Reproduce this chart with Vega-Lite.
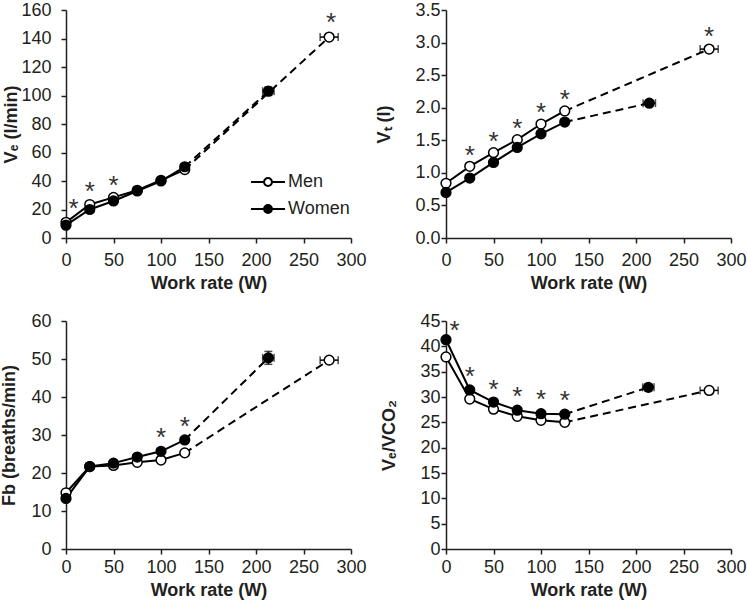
{
  "$schema": "https://vega.github.io/schema/vega-lite/v6.json",
  "background": "white",
  "padding": {"left": 0, "top": 1, "right": 2, "bottom": 2},
  "datasets": {
    "pts": [
      {"panel": "VE", "sex": "Men", "W": 0, "v": 11},
      {"panel": "VE", "sex": "Men", "W": 25, "v": 23.5},
      {"panel": "VE", "sex": "Men", "W": 50, "v": 28.5},
      {"panel": "VE", "sex": "Men", "W": 75, "v": 33.5},
      {"panel": "VE", "sex": "Men", "W": 100, "v": 40.5},
      {"panel": "VE", "sex": "Men", "W": 125, "v": 48},
      {"panel": "VE", "sex": "Men", "W": 277, "v": 141},
      {"panel": "VE", "sex": "Women", "W": 0, "v": 9},
      {"panel": "VE", "sex": "Women", "W": 25, "v": 20},
      {"panel": "VE", "sex": "Women", "W": 50, "v": 26},
      {"panel": "VE", "sex": "Women", "W": 75, "v": 33},
      {"panel": "VE", "sex": "Women", "W": 100, "v": 40},
      {"panel": "VE", "sex": "Women", "W": 125, "v": 50},
      {"panel": "VE", "sex": "Women", "W": 213, "v": 103},
      {"panel": "VT", "sex": "Men", "W": 0, "v": 0.84},
      {"panel": "VT", "sex": "Men", "W": 25, "v": 1.10},
      {"panel": "VT", "sex": "Men", "W": 50, "v": 1.31},
      {"panel": "VT", "sex": "Men", "W": 75, "v": 1.51},
      {"panel": "VT", "sex": "Men", "W": 100, "v": 1.75},
      {"panel": "VT", "sex": "Men", "W": 125, "v": 1.95},
      {"panel": "VT", "sex": "Men", "W": 277, "v": 2.90},
      {"panel": "VT", "sex": "Women", "W": 0, "v": 0.70},
      {"panel": "VT", "sex": "Women", "W": 25, "v": 0.92},
      {"panel": "VT", "sex": "Women", "W": 50, "v": 1.16},
      {"panel": "VT", "sex": "Women", "W": 75, "v": 1.39},
      {"panel": "VT", "sex": "Women", "W": 100, "v": 1.60},
      {"panel": "VT", "sex": "Women", "W": 125, "v": 1.78},
      {"panel": "VT", "sex": "Women", "W": 214, "v": 2.07},
      {"panel": "Fb", "sex": "Men", "W": 0, "v": 14.8},
      {"panel": "Fb", "sex": "Men", "W": 25, "v": 21.7},
      {"panel": "Fb", "sex": "Men", "W": 50, "v": 22.0},
      {"panel": "Fb", "sex": "Men", "W": 75, "v": 22.8},
      {"panel": "Fb", "sex": "Men", "W": 100, "v": 23.4},
      {"panel": "Fb", "sex": "Men", "W": 125, "v": 25.3},
      {"panel": "Fb", "sex": "Men", "W": 277, "v": 49.7},
      {"panel": "Fb", "sex": "Women", "W": 0, "v": 13.3},
      {"panel": "Fb", "sex": "Women", "W": 25, "v": 21.7},
      {"panel": "Fb", "sex": "Women", "W": 50, "v": 22.6},
      {"panel": "Fb", "sex": "Women", "W": 75, "v": 24.2},
      {"panel": "Fb", "sex": "Women", "W": 100, "v": 25.7},
      {"panel": "Fb", "sex": "Women", "W": 125, "v": 28.7},
      {"panel": "Fb", "sex": "Women", "W": 213, "v": 50.3},
      {"panel": "VEVCO2", "sex": "Men", "W": 0, "v": 37.9},
      {"panel": "VEVCO2", "sex": "Men", "W": 25, "v": 29.6},
      {"panel": "VEVCO2", "sex": "Men", "W": 50, "v": 27.6},
      {"panel": "VEVCO2", "sex": "Men", "W": 75, "v": 26.2},
      {"panel": "VEVCO2", "sex": "Men", "W": 100, "v": 25.4},
      {"panel": "VEVCO2", "sex": "Men", "W": 125, "v": 25.0},
      {"panel": "VEVCO2", "sex": "Men", "W": 277, "v": 31.3},
      {"panel": "VEVCO2", "sex": "Women", "W": 0, "v": 41.3},
      {"panel": "VEVCO2", "sex": "Women", "W": 25, "v": 31.4},
      {"panel": "VEVCO2", "sex": "Women", "W": 50, "v": 29.0},
      {"panel": "VEVCO2", "sex": "Women", "W": 75, "v": 27.4},
      {"panel": "VEVCO2", "sex": "Women", "W": 100, "v": 26.7},
      {"panel": "VEVCO2", "sex": "Women", "W": 125, "v": 26.6},
      {"panel": "VEVCO2", "sex": "Women", "W": 213, "v": 31.9}
    ],
    "err": [
      {"panel": "VE", "sex": "Men", "v": 141, "xlo": 267.5, "xhi": 286.5},
      {"panel": "VE", "sex": "Women", "v": 103, "xlo": 207, "xhi": 219},
      {"panel": "VT", "sex": "Men", "v": 2.90, "xlo": 267.5, "xhi": 286.5},
      {"panel": "VT", "sex": "Women", "v": 2.07, "xlo": 207.5, "xhi": 220.5},
      {"panel": "Fb", "sex": "Men", "v": 49.7, "xlo": 267.5, "xhi": 286.5},
      {"panel": "Fb", "sex": "Women", "v": 50.3, "xlo": 207, "xhi": 219},
      {"panel": "VEVCO2", "sex": "Men", "v": 31.3, "xlo": 267.5, "xhi": 286.5},
      {"panel": "VEVCO2", "sex": "Women", "v": 31.9, "xlo": 207, "xhi": 219}
    ],
    "verr": [
      {"panel": "VE", "W": 213, "ylo": 100, "yhi": 106},
      {"panel": "Fb", "W": 213, "ylo": 48.6, "yhi": 52},
      {"panel": "VEVCO2", "W": 213, "ylo": 31.2, "yhi": 32.6}
    ],
    "ast": [
      {"panel": "VE", "W": 8, "v": 25},
      {"panel": "VE", "W": 25, "v": 37},
      {"panel": "VE", "W": 50, "v": 41.5},
      {"panel": "VE", "W": 279, "v": 156},
      {"panel": "VT", "W": 25, "v": 1.37},
      {"panel": "VT", "W": 50, "v": 1.58},
      {"panel": "VT", "W": 75, "v": 1.78},
      {"panel": "VT", "W": 100, "v": 2.02},
      {"panel": "VT", "W": 125, "v": 2.23},
      {"panel": "VT", "W": 277, "v": 3.19},
      {"panel": "Fb", "W": 100, "v": 31},
      {"panel": "Fb", "W": 125, "v": 34},
      {"panel": "VEVCO2", "W": 9, "v": 44.5},
      {"panel": "VEVCO2", "W": 25, "v": 35.4},
      {"panel": "VEVCO2", "W": 50, "v": 32.7},
      {"panel": "VEVCO2", "W": 75, "v": 31.4},
      {"panel": "VEVCO2", "W": 100, "v": 30.8},
      {"panel": "VEVCO2", "W": 125, "v": 30.6}
    ]
  },
  "columns": 2,
  "bounds": "flush",
  "spacing": {"row": 83, "column": 95},
  "resolve": {"scale": {"fill": "independent"}, "legend": {"fill": "independent"}},
  "concat": [
    {
      "width": 285, "height": 228,
      "layer": [
        {"data": {"name": "pts"}, "transform": [{"filter": "datum.panel === 'VE' && datum.W <= 125"}],
         "mark": {"type": "line", "color": "#000", "strokeWidth": 2},
         "encoding": {
           "x": {"field": "W", "type": "quantitative", "title": "Work rate (W)", "scale": {"domain": [0, 300], "nice": false},
                 "axis": {"title": "Work rate (W)", "values": [0, 50, 100, 150, 200, 250, 300], "labelPadding": 8, "titlePadding": 5}},
           "y": {"field": "v", "type": "quantitative", "title": "Vₑ (l/min)", "scale": {"domain": [0, 160], "nice": false},
                 "axis": {"title": "Vₑ (l/min)", "values": [0, 20, 40, 60, 80, 100, 120, 140, 160], "labelPadding": 10, "titlePadding": 0}},
           "detail": {"field": "sex"}}},
        {"data": {"name": "pts"}, "transform": [{"filter": "datum.panel === 'VE' && datum.W >= 125"}],
         "mark": {"type": "line", "color": "#000", "strokeWidth": 2, "strokeDash": [8, 5]},
         "encoding": {
           "x": {"field": "W", "type": "quantitative", "title": "Work rate (W)", "axis": {"title": "Work rate (W)", "values": [0, 50, 100, 150, 200, 250, 300], "labelPadding": 8, "titlePadding": 5}},
           "y": {"field": "v", "type": "quantitative", "title": "Vₑ (l/min)", "axis": {"title": "Vₑ (l/min)", "values": [0, 20, 40, 60, 80, 100, 120, 140, 160], "labelPadding": 10, "titlePadding": 0}},
           "detail": {"field": "sex"}}},
        {"data": {"name": "err"}, "transform": [{"filter": "datum.panel === 'VE'"}],
         "mark": {"type": "errorbar", "ticks": {"size": 8, "thickness": 1.5}, "thickness": 1.5, "color": "#000"},
         "encoding": {
           "x": {"field": "xlo", "type": "quantitative", "title": "Work rate (W)", "axis": {"title": "Work rate (W)", "values": [0, 50, 100, 150, 200, 250, 300], "labelPadding": 8, "titlePadding": 5}},
           "x2": {"field": "xhi"},
           "y": {"field": "v", "type": "quantitative", "title": "Vₑ (l/min)", "axis": {"title": "Vₑ (l/min)", "values": [0, 20, 40, 60, 80, 100, 120, 140, 160], "labelPadding": 10, "titlePadding": 0}}}},
        {"data": {"name": "verr"}, "transform": [{"filter": "datum.panel === 'VE'"}],
         "mark": {"type": "errorbar", "ticks": {"size": 8, "thickness": 1.5}, "thickness": 1.5, "color": "#000"},
         "encoding": {
           "y": {"field": "ylo", "type": "quantitative", "title": "Vₑ (l/min)", "axis": {"title": "Vₑ (l/min)", "values": [0, 20, 40, 60, 80, 100, 120, 140, 160], "labelPadding": 10, "titlePadding": 0}},
           "y2": {"field": "yhi"},
           "x": {"field": "W", "type": "quantitative", "title": "Work rate (W)", "axis": {"title": "Work rate (W)", "values": [0, 50, 100, 150, 200, 250, 300], "labelPadding": 8, "titlePadding": 5}}}},
        {"data": {"name": "pts"}, "transform": [{"filter": "datum.panel === 'VE'"}],
         "mark": {"type": "point", "shape": "circle", "filled": true, "size": 95, "stroke": "#000", "strokeWidth": 1.5, "opacity": 1},
         "encoding": {
           "x": {"field": "W", "type": "quantitative", "title": "Work rate (W)", "axis": {"title": "Work rate (W)", "values": [0, 50, 100, 150, 200, 250, 300], "labelPadding": 8, "titlePadding": 5}},
           "y": {"field": "v", "type": "quantitative", "title": "Vₑ (l/min)", "axis": {"title": "Vₑ (l/min)", "values": [0, 20, 40, 60, 80, 100, 120, 140, 160], "labelPadding": 10, "titlePadding": 0}},
           "fill": {"field": "sex", "type": "nominal", "scale": {"domain": ["Men", "Women"], "range": ["#ffffff", "#000000"]},
             "legend": {"orient": "none", "legendX": 189, "legendY": 159, "title": null, "padding": 0,
               "symbolType": "M-1.42,0H-0.33M0.33,0H1.42M0.33,0A0.33,0.33,0,1,1,-0.33,0A0.33,0.33,0,1,1,0.33,0Z",
               "symbolSize": 576, "symbolStrokeColor": "#000", "symbolStrokeWidth": 2, "symbolOpacity": 1,
               "labelFont": "Liberation Sans", "labelFontSize": 18, "labelColor": "#231f20", "labelOffset": 7, "rowPadding": 5}}}},
        {"data": {"name": "ast"}, "transform": [{"filter": "datum.panel === 'VE'"}],
         "mark": {"type": "text", "text": "*", "font": "Liberation Sans", "fontSize": 26, "color": "#333", "baseline": "middle", "dy": 7},
         "encoding": {
           "x": {"field": "W", "type": "quantitative", "title": "Work rate (W)", "axis": {"title": "Work rate (W)", "values": [0, 50, 100, 150, 200, 250, 300], "labelPadding": 8, "titlePadding": 5}},
           "y": {"field": "v", "type": "quantitative", "title": "Vₑ (l/min)", "axis": {"title": "Vₑ (l/min)", "values": [0, 20, 40, 60, 80, 100, 120, 140, 160], "labelPadding": 10, "titlePadding": 0}}}}
      ]
    },
    {
      "width": 285, "height": 228,
      "layer": [
        {"data": {"name": "pts"}, "transform": [{"filter": "datum.panel === 'VT' && datum.W <= 125"}],
         "mark": {"type": "line", "color": "#000", "strokeWidth": 2},
         "encoding": {
           "x": {"field": "W", "type": "quantitative", "title": "Work rate (W)", "scale": {"domain": [0, 300], "nice": false},
                 "axis": {"title": "Work rate (W)", "values": [0, 50, 100, 150, 200, 250, 300], "labelPadding": 8, "titlePadding": 5}},
           "y": {"field": "v", "type": "quantitative", "title": "Vₜ (l)", "scale": {"domain": [0, 3.5], "nice": false},
                 "axis": {"title": "Vₜ (l)", "values": [0, 0.5, 1, 1.5, 2, 2.5, 3, 3.5], "format": ".1f", "labelPadding": 1, "titlePadding": 21}},
           "detail": {"field": "sex"}}},
        {"data": {"name": "pts"}, "transform": [{"filter": "datum.panel === 'VT' && datum.W >= 125"}],
         "mark": {"type": "line", "color": "#000", "strokeWidth": 2, "strokeDash": [8, 5]},
         "encoding": {
           "x": {"field": "W", "type": "quantitative", "title": "Work rate (W)", "axis": {"title": "Work rate (W)", "values": [0, 50, 100, 150, 200, 250, 300], "labelPadding": 8, "titlePadding": 5}},
           "y": {"field": "v", "type": "quantitative", "title": "Vₜ (l)", "axis": {"title": "Vₜ (l)", "values": [0, 0.5, 1, 1.5, 2, 2.5, 3, 3.5], "format": ".1f", "labelPadding": 1, "titlePadding": 21}},
           "detail": {"field": "sex"}}},
        {"data": {"name": "err"}, "transform": [{"filter": "datum.panel === 'VT'"}],
         "mark": {"type": "errorbar", "ticks": {"size": 8, "thickness": 1.5}, "thickness": 1.5, "color": "#000"},
         "encoding": {
           "x": {"field": "xlo", "type": "quantitative", "title": "Work rate (W)", "axis": {"title": "Work rate (W)", "values": [0, 50, 100, 150, 200, 250, 300], "labelPadding": 8, "titlePadding": 5}},
           "x2": {"field": "xhi"},
           "y": {"field": "v", "type": "quantitative", "title": "Vₜ (l)", "axis": {"title": "Vₜ (l)", "values": [0, 0.5, 1, 1.5, 2, 2.5, 3, 3.5], "format": ".1f", "labelPadding": 1, "titlePadding": 21}}}},
        {"data": {"name": "pts"}, "transform": [{"filter": "datum.panel === 'VT'"}],
         "mark": {"type": "point", "shape": "circle", "filled": true, "size": 95, "stroke": "#000", "strokeWidth": 1.5, "opacity": 1},
         "encoding": {
           "x": {"field": "W", "type": "quantitative", "title": "Work rate (W)", "axis": {"title": "Work rate (W)", "values": [0, 50, 100, 150, 200, 250, 300], "labelPadding": 8, "titlePadding": 5}},
           "y": {"field": "v", "type": "quantitative", "title": "Vₜ (l)", "axis": {"title": "Vₜ (l)", "values": [0, 0.5, 1, 1.5, 2, 2.5, 3, 3.5], "format": ".1f", "labelPadding": 1, "titlePadding": 21}},
           "fill": {"field": "sex", "type": "nominal", "scale": {"domain": ["Men", "Women"], "range": ["#ffffff", "#000000"]}, "legend": null}}},
        {"data": {"name": "ast"}, "transform": [{"filter": "datum.panel === 'VT'"}],
         "mark": {"type": "text", "text": "*", "font": "Liberation Sans", "fontSize": 26, "color": "#333", "baseline": "middle", "dy": 7},
         "encoding": {
           "x": {"field": "W", "type": "quantitative", "title": "Work rate (W)", "axis": {"title": "Work rate (W)", "values": [0, 50, 100, 150, 200, 250, 300], "labelPadding": 8, "titlePadding": 5}},
           "y": {"field": "v", "type": "quantitative", "title": "Vₜ (l)", "axis": {"title": "Vₜ (l)", "values": [0, 0.5, 1, 1.5, 2, 2.5, 3, 3.5], "format": ".1f", "labelPadding": 1, "titlePadding": 21}}}}
      ]
    },
    {
      "width": 285, "height": 228,
      "layer": [
        {"data": {"name": "pts"}, "transform": [{"filter": "datum.panel === 'Fb' && datum.W <= 125"}],
         "mark": {"type": "line", "color": "#000", "strokeWidth": 2},
         "encoding": {
           "x": {"field": "W", "type": "quantitative", "title": "Work rate (W)", "scale": {"domain": [0, 300], "nice": false},
                 "axis": {"title": "Work rate (W)", "values": [0, 50, 100, 150, 200, 250, 300], "labelPadding": 4, "titlePadding": 5}},
           "y": {"field": "v", "type": "quantitative", "title": "Fb (breaths/min)", "scale": {"domain": [0, 60], "nice": false},
                 "axis": {"title": "Fb (breaths/min)", "values": [0, 10, 20, 30, 40, 50, 60], "labelPadding": 10, "titlePadding": 12}},
           "detail": {"field": "sex"}}},
        {"data": {"name": "pts"}, "transform": [{"filter": "datum.panel === 'Fb' && datum.W >= 125"}],
         "mark": {"type": "line", "color": "#000", "strokeWidth": 2, "strokeDash": [8, 5]},
         "encoding": {
           "x": {"field": "W", "type": "quantitative", "title": "Work rate (W)", "axis": {"title": "Work rate (W)", "values": [0, 50, 100, 150, 200, 250, 300], "labelPadding": 4, "titlePadding": 5}},
           "y": {"field": "v", "type": "quantitative", "title": "Fb (breaths/min)", "axis": {"title": "Fb (breaths/min)", "values": [0, 10, 20, 30, 40, 50, 60], "labelPadding": 10, "titlePadding": 12}},
           "detail": {"field": "sex"}}},
        {"data": {"name": "err"}, "transform": [{"filter": "datum.panel === 'Fb'"}],
         "mark": {"type": "errorbar", "ticks": {"size": 8, "thickness": 1.5}, "thickness": 1.5, "color": "#000"},
         "encoding": {
           "x": {"field": "xlo", "type": "quantitative", "title": "Work rate (W)", "axis": {"title": "Work rate (W)", "values": [0, 50, 100, 150, 200, 250, 300], "labelPadding": 4, "titlePadding": 5}},
           "x2": {"field": "xhi"},
           "y": {"field": "v", "type": "quantitative", "title": "Fb (breaths/min)", "axis": {"title": "Fb (breaths/min)", "values": [0, 10, 20, 30, 40, 50, 60], "labelPadding": 10, "titlePadding": 12}}}},
        {"data": {"name": "verr"}, "transform": [{"filter": "datum.panel === 'Fb'"}],
         "mark": {"type": "errorbar", "ticks": {"size": 8, "thickness": 1.5}, "thickness": 1.5, "color": "#000"},
         "encoding": {
           "y": {"field": "ylo", "type": "quantitative", "title": "Fb (breaths/min)", "axis": {"title": "Fb (breaths/min)", "values": [0, 10, 20, 30, 40, 50, 60], "labelPadding": 10, "titlePadding": 12}},
           "y2": {"field": "yhi"},
           "x": {"field": "W", "type": "quantitative", "title": "Work rate (W)", "axis": {"title": "Work rate (W)", "values": [0, 50, 100, 150, 200, 250, 300], "labelPadding": 4, "titlePadding": 5}}}},
        {"data": {"name": "pts"}, "transform": [{"filter": "datum.panel === 'Fb'"}],
         "mark": {"type": "point", "shape": "circle", "filled": true, "size": 95, "stroke": "#000", "strokeWidth": 1.5, "opacity": 1},
         "encoding": {
           "x": {"field": "W", "type": "quantitative", "title": "Work rate (W)", "axis": {"title": "Work rate (W)", "values": [0, 50, 100, 150, 200, 250, 300], "labelPadding": 4, "titlePadding": 5}},
           "y": {"field": "v", "type": "quantitative", "title": "Fb (breaths/min)", "axis": {"title": "Fb (breaths/min)", "values": [0, 10, 20, 30, 40, 50, 60], "labelPadding": 10, "titlePadding": 12}},
           "fill": {"field": "sex", "type": "nominal", "scale": {"domain": ["Men", "Women"], "range": ["#ffffff", "#000000"]}, "legend": null}}},
        {"data": {"name": "ast"}, "transform": [{"filter": "datum.panel === 'Fb'"}],
         "mark": {"type": "text", "text": "*", "font": "Liberation Sans", "fontSize": 26, "color": "#333", "baseline": "middle", "dy": 7},
         "encoding": {
           "x": {"field": "W", "type": "quantitative", "title": "Work rate (W)", "axis": {"title": "Work rate (W)", "values": [0, 50, 100, 150, 200, 250, 300], "labelPadding": 4, "titlePadding": 5}},
           "y": {"field": "v", "type": "quantitative", "title": "Fb (breaths/min)", "axis": {"title": "Fb (breaths/min)", "values": [0, 10, 20, 30, 40, 50, 60], "labelPadding": 10, "titlePadding": 12}}}}
      ]
    },
    {
      "width": 285, "height": 228,
      "layer": [
        {"data": {"name": "pts"}, "transform": [{"filter": "datum.panel === 'VEVCO2' && datum.W <= 125"}],
         "mark": {"type": "line", "color": "#000", "strokeWidth": 2},
         "encoding": {
           "x": {"field": "W", "type": "quantitative", "title": "Work rate (W)", "scale": {"domain": [0, 300], "nice": false},
                 "axis": {"title": "Work rate (W)", "values": [0, 50, 100, 150, 200, 250, 300], "labelPadding": 4, "titlePadding": 5}},
           "y": {"field": "v", "type": "quantitative", "title": "Vₑ/VCO₂", "scale": {"domain": [0, 45], "nice": false},
                 "axis": {"title": "Vₑ/VCO₂", "values": [0, 5, 10, 15, 20, 25, 30, 35, 40, 45], "labelPadding": 1, "titlePadding": 21}},
           "detail": {"field": "sex"}}},
        {"data": {"name": "pts"}, "transform": [{"filter": "datum.panel === 'VEVCO2' && datum.W >= 125"}],
         "mark": {"type": "line", "color": "#000", "strokeWidth": 2, "strokeDash": [8, 5]},
         "encoding": {
           "x": {"field": "W", "type": "quantitative", "title": "Work rate (W)", "axis": {"title": "Work rate (W)", "values": [0, 50, 100, 150, 200, 250, 300], "labelPadding": 4, "titlePadding": 5}},
           "y": {"field": "v", "type": "quantitative", "title": "Vₑ/VCO₂", "axis": {"title": "Vₑ/VCO₂", "values": [0, 5, 10, 15, 20, 25, 30, 35, 40, 45], "labelPadding": 1, "titlePadding": 21}},
           "detail": {"field": "sex"}}},
        {"data": {"name": "err"}, "transform": [{"filter": "datum.panel === 'VEVCO2'"}],
         "mark": {"type": "errorbar", "ticks": {"size": 8, "thickness": 1.5}, "thickness": 1.5, "color": "#000"},
         "encoding": {
           "x": {"field": "xlo", "type": "quantitative", "title": "Work rate (W)", "axis": {"title": "Work rate (W)", "values": [0, 50, 100, 150, 200, 250, 300], "labelPadding": 4, "titlePadding": 5}},
           "x2": {"field": "xhi"},
           "y": {"field": "v", "type": "quantitative", "title": "Vₑ/VCO₂", "axis": {"title": "Vₑ/VCO₂", "values": [0, 5, 10, 15, 20, 25, 30, 35, 40, 45], "labelPadding": 1, "titlePadding": 21}}}},
        {"data": {"name": "verr"}, "transform": [{"filter": "datum.panel === 'VEVCO2'"}],
         "mark": {"type": "errorbar", "ticks": {"size": 8, "thickness": 1.5}, "thickness": 1.5, "color": "#000"},
         "encoding": {
           "y": {"field": "ylo", "type": "quantitative", "title": "Vₑ/VCO₂", "axis": {"title": "Vₑ/VCO₂", "values": [0, 5, 10, 15, 20, 25, 30, 35, 40, 45], "labelPadding": 1, "titlePadding": 21}},
           "y2": {"field": "yhi"},
           "x": {"field": "W", "type": "quantitative", "title": "Work rate (W)", "axis": {"title": "Work rate (W)", "values": [0, 50, 100, 150, 200, 250, 300], "labelPadding": 4, "titlePadding": 5}}}},
        {"data": {"name": "pts"}, "transform": [{"filter": "datum.panel === 'VEVCO2'"}],
         "mark": {"type": "point", "shape": "circle", "filled": true, "size": 95, "stroke": "#000", "strokeWidth": 1.5, "opacity": 1},
         "encoding": {
           "x": {"field": "W", "type": "quantitative", "title": "Work rate (W)", "axis": {"title": "Work rate (W)", "values": [0, 50, 100, 150, 200, 250, 300], "labelPadding": 4, "titlePadding": 5}},
           "y": {"field": "v", "type": "quantitative", "title": "Vₑ/VCO₂", "axis": {"title": "Vₑ/VCO₂", "values": [0, 5, 10, 15, 20, 25, 30, 35, 40, 45], "labelPadding": 1, "titlePadding": 21}},
           "fill": {"field": "sex", "type": "nominal", "scale": {"domain": ["Men", "Women"], "range": ["#ffffff", "#000000"]}, "legend": null}}},
        {"data": {"name": "ast"}, "transform": [{"filter": "datum.panel === 'VEVCO2'"}],
         "mark": {"type": "text", "text": "*", "font": "Liberation Sans", "fontSize": 26, "color": "#333", "baseline": "middle", "dy": 7},
         "encoding": {
           "x": {"field": "W", "type": "quantitative", "title": "Work rate (W)", "axis": {"title": "Work rate (W)", "values": [0, 50, 100, 150, 200, 250, 300], "labelPadding": 4, "titlePadding": 5}},
           "y": {"field": "v", "type": "quantitative", "title": "Vₑ/VCO₂", "axis": {"title": "Vₑ/VCO₂", "values": [0, 5, 10, 15, 20, 25, 30, 35, 40, 45], "labelPadding": 1, "titlePadding": 21}}}}
      ]
    }
  ],
  "config": {
    "font": "Liberation Sans",
    "view": {"stroke": null},
    "axis": {
      "grid": false, "domainColor": "#231f20", "domainWidth": 1.5, "tickColor": "#231f20", "tickWidth": 1.5, "tickSize": 5,
      "labelFont": "Liberation Sans", "labelFontSize": 18, "labelColor": "#231f20", "labelOverlap": false, "labelFlush": false,
      "titleFont": "Liberation Sans", "titleFontSize": 18, "titleFontWeight": "bold", "titleColor": "#231f20"
    }
  }
}
